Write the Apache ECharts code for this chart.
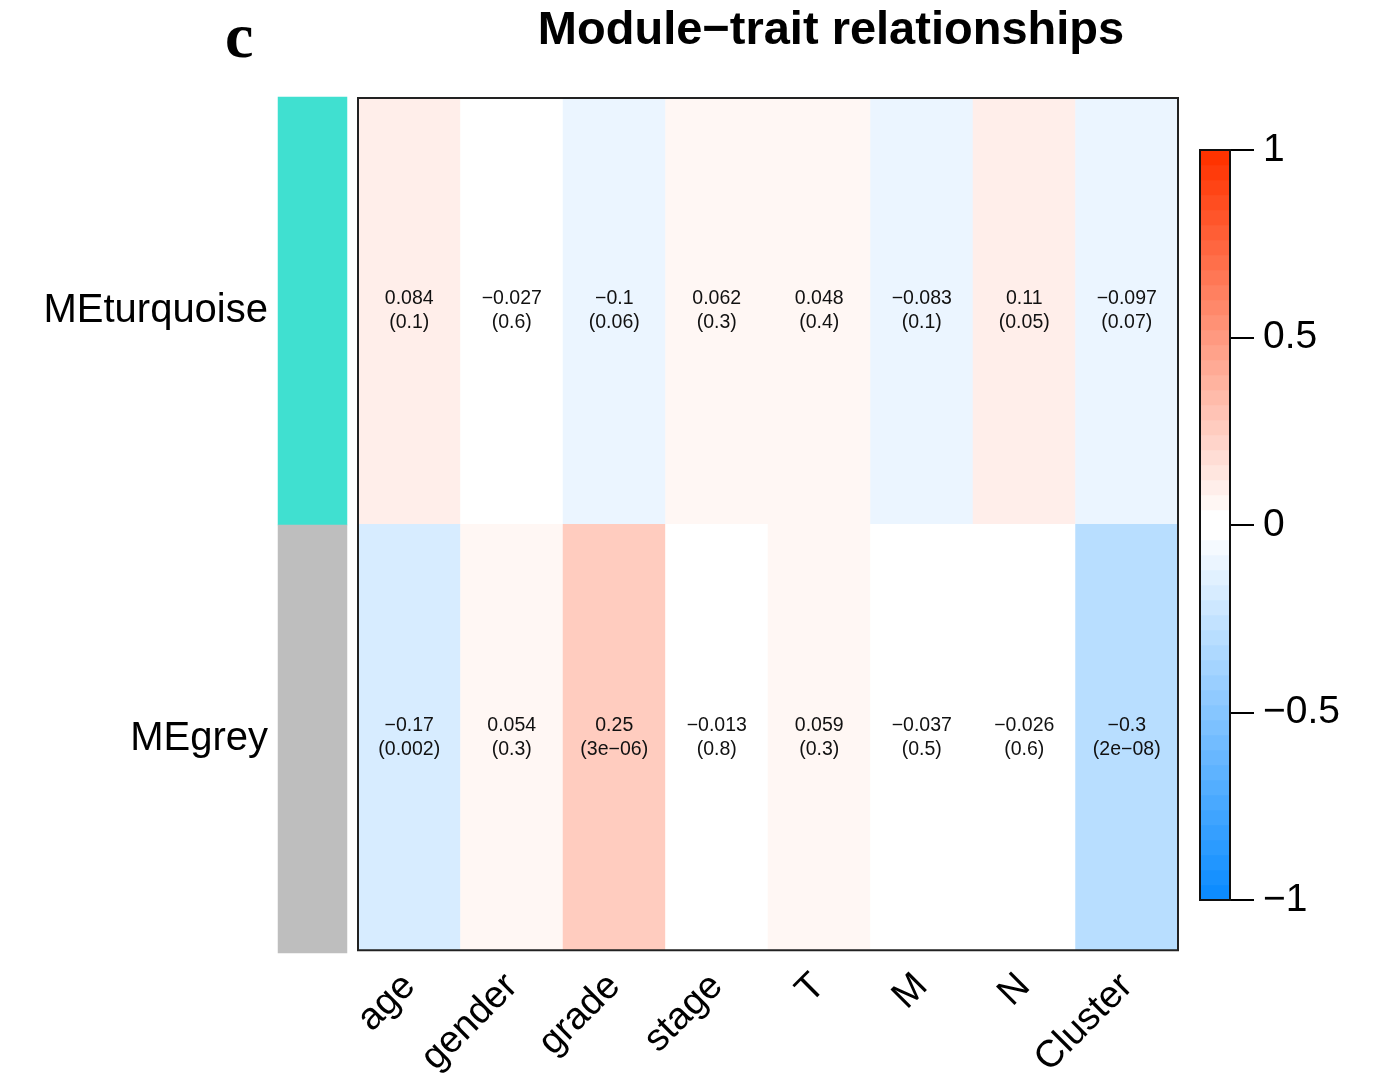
<!DOCTYPE html>
<html><head><meta charset="utf-8">
<script src="https://cdn.jsdelivr.net/npm/echarts@6/dist/echarts.min.js"></script>
<style>html,body{margin:0;padding:0;background:#fff}#c{width:1392px;height:1081px}</style>
</head><body><div id="c"></div>
<script>
// ---- data ----
var traits = ['age', 'gender', 'grade', 'stage', 'T', 'M', 'N', 'Cluster'];
var modules = ['MEturquoise', 'MEgrey'];
var moduleColors = ['#40E0D0', '#BEBEBE'];
var corTurquoise = [0.084, -0.027, -0.1, 0.062, 0.048, -0.083, 0.11, -0.097];
var pTurquoise = ['0.1', '0.6', '0.06', '0.3', '0.4', '0.1', '0.05', '0.07'];
var corGrey = [-0.17, 0.054, 0.25, -0.013, 0.059, -0.037, -0.026, -0.3];
var pGrey = ['0.002', '0.3', '3e-06', '0.8', '0.3', '0.5', '0.6', '2e-08'];
var colorbarTicks = [-1, -0.5, 0, 0.5, 1];

// ---- WGCNA blueWhiteRed(50) palette ----
var N = 50, half = 25;
var blueEnd = [0.05, 0.55, 1.0], redEnd = [1.0, 0.2, 0.0];
function toHex(a){return '#' + a.map(function(v){var h=Math.round(v*255).toString(16);return h.length<2?'0'+h:h;}).join('');}
var palette = [];
for (var i = 0; i < half; i++) { var f = i/(half-1); palette.push(toHex(blueEnd.map(function(b){return b+(1-b)*f;}))); }
for (var i = 0; i < half; i++) { var f = 1 - i/(half-1); palette.push(toHex(redEnd.map(function(r){return r+(1-r)*f;}))); }
var pieces = palette.map(function(c, i){ return {gte: -1 + i*2/N, lt: -1 + (i+1)*2/N, color: c}; });
pieces[N-1].lte = 1; delete pieces[N-1].lt;

function mfmt(s){ return String(s).replace(/-/g, '\u2212'); }

// ---- build heatmap data ----
var cors = [corTurquoise, corGrey];
var ps = [pTurquoise, pGrey];
var heat = [];
for (var r = 0; r < modules.length; r++)
  for (var c = 0; c < traits.length; c++)
    heat.push({value: [c, r, cors[r][c]], p: ps[r][c]});

var moduleData = modules.map(function(m, i){ return {value: [0, i, i], itemStyle: {color: moduleColors[i]}}; });
var barLevels = palette.map(function(c, i){ return 'l' + i; });
var colorbarData = palette.map(function(c, i){ return {value: [0, i, i], itemStyle: {color: c}}; });

var FONT = '"Liberation Sans", Arial, sans-serif';
var chart = echarts.init(document.getElementById('c'), null, {renderer: 'canvas'});
chart.setOption({
  animation: false,
  backgroundColor: '#fff',
  title: [
    {text: 'Module\u2212trait relationships', left: 826, top: 3, textAlign: 'center',
     textStyle: {fontFamily: FONT, fontWeight: 'bold', fontSize: 47, color: '#000'}},
    {text: 'c', left: 220, top: 3,
     textStyle: {fontFamily: '"Liberation Serif", "Times New Roman", serif', fontWeight: 'bold', fontSize: 64, color: '#000'}}
  ],
  grid: [
    {left: 358, top: 98, width: 820, height: 853, show: true, borderColor: '#222', borderWidth: 2, backgroundColor: 'transparent', z: 3},
    {left: 278, top: 97, width: 69, height: 856},
    {left: 1200, top: 150, width: 30, height: 750, show: true, borderColor: '#111', borderWidth: 2, backgroundColor: 'transparent', z: 3}
  ],
  xAxis: [
    {type: 'category', gridIndex: 0, data: traits, position: 'bottom',
     axisLine: {show: false}, axisTick: {show: false}, splitLine: {show: false},
     axisLabel: {rotate: 45, margin: 30, fontSize: 38, fontFamily: FONT, color: '#000', interval: 0}},
    {type: 'category', gridIndex: 1, data: ['m'], show: false},
    {type: 'category', gridIndex: 2, data: ['c'], show: false}
  ],
  yAxis: [
    {type: 'category', gridIndex: 0, data: modules, inverse: true, show: false},
    {type: 'category', gridIndex: 1, data: modules, inverse: true,
     axisLine: {show: false}, axisTick: {show: false},
     axisLabel: {margin: 10, fontSize: 40, fontFamily: FONT, color: '#000', padding: [8, 0, 0, 0]}},
    {type: 'category', gridIndex: 2, data: barLevels, show: false},
    {type: 'value', gridIndex: 2, min: -1, max: 1, interval: 0.5, position: 'right',
     axisLine: {show: false}, splitLine: {show: false},
     axisTick: {show: true, length: 24, lineStyle: {color: '#000', width: 2}},
     axisLabel: {margin: 33, fontSize: 39, fontFamily: FONT, color: '#000',
       formatter: function(v){ return mfmt(v); }}}
  ],
  visualMap: [{type: 'piecewise', show: false, seriesIndex: 0, dimension: 2, pieces: pieces}],
  series: [
    {type: 'heatmap', xAxisIndex: 0, yAxisIndex: 0, data: heat,
     label: {show: true, fontFamily: FONT, fontSize: 19.5, lineHeight: 24, color: '#111', padding: [4, 0, 0, 0],
       formatter: function(p){ return mfmt(p.data.value[2]) + '\n(' + mfmt(p.data.p) + ')'; }},
     emphasis: {disabled: true}},
    {type: 'heatmap', xAxisIndex: 1, yAxisIndex: 1, data: moduleData, emphasis: {disabled: true}},
    {type: 'heatmap', xAxisIndex: 2, yAxisIndex: 2, data: colorbarData, emphasis: {disabled: true}}
  ]
});
</script></body></html>
